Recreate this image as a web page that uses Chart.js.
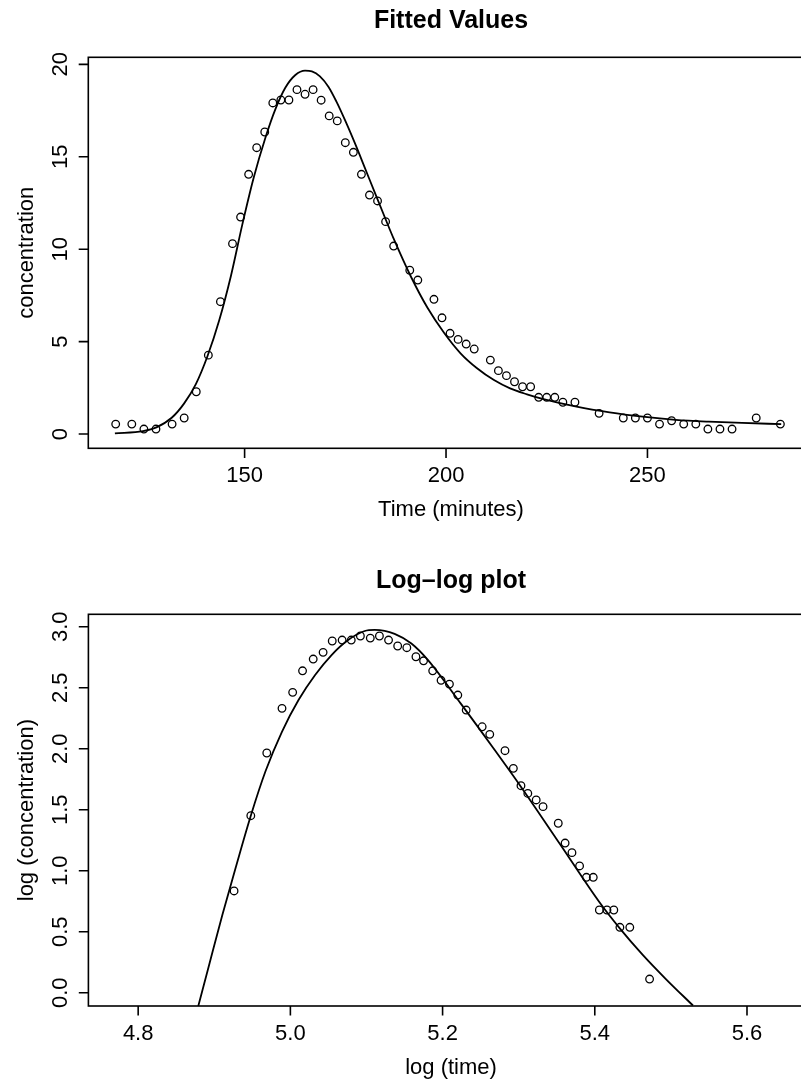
<!DOCTYPE html>
<html>
<head>
<meta charset="utf-8">
<title>Fitted Values / Log-log plot</title>
<script src="https://cdn.jsdelivr.net/npm/chart.js@4.4.1/dist/chart.umd.min.js"></script>
<style>
	html, body { margin: 0; padding: 0; background: #fff; }
	canvas { position: absolute; left: 0; }
</style>
</head>
<body>
<canvas id="fitted" width="801" height="545" style="top:0"></canvas>
<canvas id="loglog" width="801" height="539" style="top:545px"></canvas>
<script>
// observed concentration curve (minutes)
const timeObs = [118, 122, 125, 128, 132, 135, 138, 141, 144, 147, 149, 151, 153, 155, 157, 159, 161, 163, 165, 167,
	169, 171, 173, 175, 177, 179, 181, 183, 185, 187, 191, 193, 197, 199, 201, 203, 205, 207, 211, 213,
	215, 217, 219, 221, 223, 225, 227, 229, 232, 238, 244, 247, 250, 253, 256, 259, 262, 265, 268, 271, 277, 283];
const concObs = [0.54, 0.54, 0.27, 0.27, 0.54, 0.87, 2.29, 4.27, 7.16, 10.30, 11.74, 14.05, 15.49, 16.34, 17.91, 18.07, 18.07, 18.63, 18.38, 18.63,
	18.06, 17.21, 16.94, 15.76, 15.24, 14.05, 12.93, 12.61, 11.49, 10.17, 8.86, 8.33, 7.29, 6.29, 5.45, 5.12, 4.87, 4.60, 4.00, 3.43,
	3.16, 2.83, 2.56, 2.56, 1.99, 1.99, 1.99, 1.72, 1.72, 1.12, 0.87, 0.87, 0.87, 0.54, 0.72, 0.54, 0.54, 0.27, 0.27, 0.27, 0.87, 0.54];

// fitted curve
const fitTime = [117.8, 124.8, 128.1, 131.9, 135.0, 137.9, 140.8, 143.7, 146.6, 149.4, 152.3, 155.2, 157.6, 160.1, 162.6, 165.0, 166.7, 168.7,
	170.8, 172.8, 174.9, 177.4, 179.8, 182.3, 185.0, 187.0, 191.3, 195.4, 199.5, 203.6, 207.7, 211.9, 215.9, 220.1, 224.2, 232.4,
	240.6, 248.8, 257.0, 265.2, 273.5, 283.2];
const fitConc = [0.04, 0.16, 0.36, 0.88, 1.66, 2.70, 4.22, 6.15, 8.55, 11.3, 13.9, 16.05, 17.55, 18.73, 19.42, 19.66, 19.62, 19.35,
	18.79, 17.98, 16.99, 15.72, 14.43, 13.07, 11.62, 10.57, 8.51, 6.83, 5.48, 4.37, 3.56, 2.92, 2.47, 2.15, 1.89, 1.48,
	1.17, 0.94, 0.77, 0.67, 0.60, 0.54];

// log-log panel
const logTimeObs = [4.926, 4.948, 4.969, 4.989, 5.003, 5.016, 5.030, 5.043, 5.055, 5.068, 5.080, 5.092, 5.105, 5.117, 5.129, 5.141, 5.153, 5.165,
	5.175, 5.187, 5.198, 5.209, 5.220, 5.231, 5.252, 5.262, 5.282, 5.293, 5.303, 5.312, 5.323, 5.332, 5.352, 5.361, 5.370, 5.380,
	5.389, 5.398, 5.406, 5.416, 5.425, 5.433, 5.446, 5.472];
const logConcObs = [0.834, 1.451, 1.965, 2.331, 2.462, 2.639, 2.735, 2.790, 2.883, 2.891, 2.891, 2.924, 2.907, 2.924, 2.891, 2.842, 2.828, 2.754,
	2.721, 2.639, 2.561, 2.530, 2.440, 2.317, 2.180, 2.118, 1.984, 1.839, 1.697, 1.634, 1.580, 1.525, 1.389, 1.227, 1.148, 1.039,
	0.946, 0.946, 0.678, 0.678, 0.678, 0.536, 0.536, 0.112];
const fitLogTime = [4.879, 4.8933, 4.9106, 4.9281, 4.9477, 4.9673, 4.9889, 5.0107, 5.0325, 5.0541, 5.0759, 5.0977, 5.1108, 5.137, 5.159,
	5.1803, 5.2237, 5.2673, 5.3029, 5.3542, 5.4064, 5.4334, 5.463, 5.4934, 5.529];
const fitLogConc = [-0.109, 0.230, 0.637, 1.025, 1.445, 1.815, 2.139, 2.399, 2.604, 2.768, 2.891, 2.965, 2.974, 2.942, 2.862,
	2.730, 2.372, 2.000, 1.689, 1.219, 0.739, 0.523, 0.310, 0.112, -0.105];

// tick labels
const timeTicks = [150, 200, 250];
const timeTickLabels = ["150", "200", "250"];
const concTicks = [0, 5, 10, 15, 20];
const concTickLabels = ["0", "5", "10", "15", "20"];
const logTimeTicks = [4.8, 5.0, 5.2, 5.4, 5.6];
const logTimeTickLabels = ["4.8", "5.0", "5.2", "5.4", "5.6"];
const logConcTicks = [0, 0.5, 1, 1.5, 2, 2.5, 3];
const logConcTickLabels = ["0.0", "0.5", "1.0", "1.5", "2.0", "2.5", "3.0"];

const FONT = "'Liberation Sans', Arial, Helvetica, sans-serif";

function verticalText(ctx, text, x, y) {
	ctx.save();
	ctx.translate(x, y);
	ctx.rotate(-Math.PI / 2);
	ctx.fillText(text, 0, 0);
	ctx.restore();
}

// base-graphics style box, ticks and labels
const rAxes = {
	id: "rAxes",
	afterDraw(chart, args, opts) {
		const ctx = chart.ctx;
		const area = chart.chartArea;
		const xs = chart.scales.x;
		const ys = chart.scales.y;
		ctx.save();
		ctx.strokeStyle = "#000";
		ctx.fillStyle = "#000";
		ctx.lineWidth = 1.6;
		ctx.strokeRect(area.left, area.top, area.right - area.left + 30, area.bottom - area.top);

		ctx.font = "22px " + FONT;
		ctx.textAlign = "center";
		ctx.textBaseline = "alphabetic";
		ctx.beginPath();
		opts.xTicks.forEach((v, i) => {
			const px = xs.getPixelForValue(v);
			ctx.moveTo(px, area.bottom);
			ctx.lineTo(px, area.bottom + 9.6);
			ctx.fillText(opts.xLabels[i], px, area.bottom + 34);
		});
		opts.yTicks.forEach((v, i) => {
			const py = ys.getPixelForValue(v);
			ctx.moveTo(area.left, py);
			ctx.lineTo(area.left - 9.6, py);
			verticalText(ctx, opts.yLabels[i], area.left - 21.6, py);
		});
		ctx.stroke();

		const midX = 451;
		ctx.fillText(opts.xTitle, midX, area.bottom + 67.6);
		verticalText(ctx, opts.yTitle, area.left - 55.3, (area.top + area.bottom) / 2);

		ctx.font = "bold 25px " + FONT;
		ctx.fillText(opts.title, midX, opts.titleY);
		ctx.restore();
	}
};

function makePanel(canvasId, obsX, obsY, fitX, fitY, setup) {
	const fitPoints = fitX.map((x, i) => ({x: x, y: fitY[i]}));
	const obsPoints = obsX.map((x, i) => ({x: x, y: obsY[i]}));
	return new Chart(document.getElementById(canvasId), {
		type: "scatter",
		data: {
			datasets: [
				{
					type: "line",
					data: fitPoints,
					showLine: true,
					borderColor: "#000",
					borderWidth: 1.8,
					pointRadius: 0,
					cubicInterpolationMode: "monotone",
					fill: false
				},
				{
					data: obsPoints,
					pointStyle: "circle",
					pointRadius: 3.8,
					borderWidth: 1.3,
					borderColor: "#000",
					backgroundColor: "rgba(0,0,0,0)"
				}
			]
		},
		options: {
			responsive: false,
			animation: false,
			devicePixelRatio: 1,
			layout: {padding: setup.padding},
			scales: {
				x: {type: "linear", display: false, min: setup.xMin, max: setup.xMax},
				y: {type: "linear", display: false, min: setup.yMin, max: setup.yMax}
			},
			plugins: {
				legend: {display: false},
				tooltip: {enabled: false},
				rAxes: setup.axes
			}
		},
		plugins: [rAxes]
	});
}

makePanel("fitted", timeObs, concObs, fitTime, fitConc, {
	padding: {left: 88.3, top: 57.3, right: 0, bottom: 96.7},
	xMin: 111.2, xMax: 286.8,
	yMin: -0.77, yMax: 20.38,
	axes: {
		xTicks: timeTicks, xLabels: timeTickLabels,
		yTicks: concTicks, yLabels: concTickLabels,
		xTitle: "Time (minutes)", yTitle: "concentration",
		title: "Fitted Values", titleY: 28
	}
});

makePanel("loglog", logTimeObs, logConcObs, fitLogTime, fitLogConc, {
	padding: {left: 88.4, top: 69.3, right: 0, bottom: 78},
	xMin: 4.7346, xMax: 5.664,
	yMin: -0.109, yMax: 3.102,
	axes: {
		xTicks: logTimeTicks, xLabels: logTimeTickLabels,
		yTicks: logConcTicks, yLabels: logConcTickLabels,
		xTitle: "log (time)", yTitle: "log (concentration)",
		title: "Log–log plot", titleY: 43
	}
});
</script>
</body>
</html>
